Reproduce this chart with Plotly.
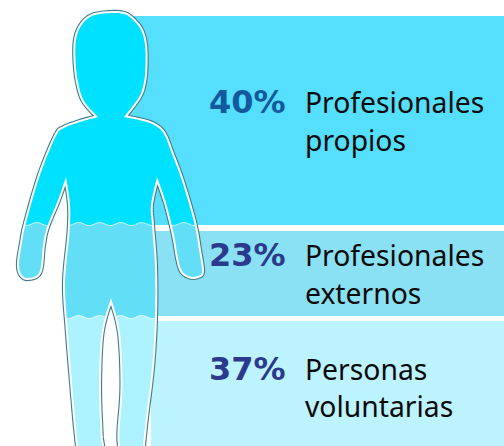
import numpy as np
import plotly.graph_objects as go

# Data
shares = [40, 23, 37]
share_labels = ["40%", "23%", "37%"]
categories = [["Profesionales", "propios"], ["Profesionales", "externos"], ["Personas", "voluntarias"]]

# Layout (pixel space of the graphic)
W, H = 504, 446
band_top = [16, 231, 321]
band_bottom = [225, 316, 446]
band_left = [130, 155, 151]
band_colors = ["#55DFFC", "#8AE1F3", "#BDF3FE"]
pct_colors = ["#12599E", "#2B3A8C", "#2B3A8C"]
text_y = [(102, 140), (255, 293), (369, 406)]
zone_colors = ["#00E1FF", "#62DFF6", "#ADF2FF"]
wave_y = [224, 317]

# Silhouette outline; a repeated point makes a sharp corner
outline = [
    (111, 13), (124, 14), (132, 19), (141, 30), (145, 45), (145.5, 65), (144, 82), (139, 97), (124, 117), (124, 117),
    (143, 121), (155, 125.5), (164, 134), (172, 154), (182, 181), (194, 222), (199, 250), (202, 271), (198, 276),
    (190, 276.5), (182, 271), (178, 258), (174, 235), (166, 203), (157, 177), (157, 177),
    (151, 205), (152, 225), (155, 267), (155, 317), (152, 367), (146, 417), (143, 446), (143, 452),
    (120.5, 452), (120, 446), (119.5, 430), (122.5, 387), (120, 333), (111, 298), (111, 298),
    (101.5, 333), (99, 387), (100.5, 433), (100.5, 452), (78, 452), (78, 446), (75, 417), (68, 333), (65, 283), (69.5, 233), (70, 205), (66, 177), (66, 177),
    (58, 200), (47, 227), (43, 245), (39.5, 272), (28, 278), (21, 274), (19, 263), (22, 243), (26, 223), (40, 175), (56, 136), (64, 128),
    (80, 122), (98, 117), (98, 117), (84, 101), (78, 82), (75.5, 60), (76, 40), (81, 26), (92, 16),
]


def smooth(points, n=8):
    p = np.array(points, float)
    m = len(p)
    out = []
    for i in range(m):
        p0, p1, p2, p3 = p[(i - 1) % m], p[i], p[(i + 1) % m], p[(i + 2) % m]
        if np.allclose(p1, p2):
            continue
        for t in np.linspace(0, 1, n, endpoint=False):
            out.append(0.5 * ((2 * p1) + (-p0 + p2) * t + (2 * p0 - 5 * p1 + 4 * p2 - p3) * t ** 2
                              + (-p0 + 3 * p1 - 3 * p2 + p3) * t ** 3))
    return np.array(out)


def wave(x, y0):
    return y0 + 1.5 * np.sin(x * 2 * np.pi / 21.0)


def clip(poly, y0, keep_above):
    res = []
    n = len(poly)
    def inside(pt):
        return (pt[1] <= wave(pt[0], y0)) if keep_above else (pt[1] >= wave(pt[0], y0))
    for i in range(n):
        a, b = poly[i], poly[(i + 1) % n]
        ia, ib = inside(a), inside(b)
        if ia:
            res.append(a)
        if ia != ib:
            da = a[1] - wave(a[0], y0)
            db = b[1] - wave(b[0], y0)
            q = a + (b - a) * da / (da - db)
            res.append(np.array([q[0], wave(q[0], y0)]))
    return fill_edges(np.array(res), y0)


def fill_edges(poly, y0):
    out = []
    n = len(poly)
    for i in range(n):
        a, b = poly[i], poly[(i + 1) % n]
        out.append(a)
        on_a = abs(a[1] - wave(a[0], y0)) < 1e-9
        on_b = abs(b[1] - wave(b[0], y0)) < 1e-9
        if on_a and on_b and abs(a[0] - b[0]) > 1:
            m = max(int(abs(a[0] - b[0])), 2)
            for x in np.linspace(a[0], b[0], m)[1:-1]:
                out.append(np.array([x, wave(x, y0)]))
    return np.array(out)


def crossings(poly, y0):
    xs = []
    n = len(poly)
    for i in range(n):
        a, b = poly[i], poly[(i + 1) % n]
        da = a[1] - wave(a[0], y0)
        db = b[1] - wave(b[0], y0)
        if da * db < 0:
            xs.append((a + (b - a) * da / (da - db))[0])
    return sorted(xs)


def svg_path(pts, close=True):
    s = "M" + " L".join(f"{x:.2f},{y:.2f}" for x, y in pts)
    return s + (" Z" if close else "")


body = smooth(outline)
closed = np.vstack([body, body[:1]])
fig = go.Figure()

for i in range(3):
    fig.add_trace(go.Bar(orientation="h", y=[(band_top[i] + band_bottom[i]) / 2], x=[W - band_left[i]],
                         base=[band_left[i]], width=[band_bottom[i] - band_top[i]],
                         marker=dict(color=band_colors[i], line=dict(width=0)), hoverinfo="skip", showlegend=False))

for color, width in (("#3E7D8A", 6.2), ("#FFFFFF", 4)):
    fig.add_trace(go.Scatter(x=closed[:, 0], y=closed[:, 1], mode="lines",
                             line=dict(color=color, width=width, simplify=False),
                             hoverinfo="skip", showlegend=False))

shapes = []
zones = [clip(body, wave_y[0], True), clip(clip(body, wave_y[0], False), wave_y[1], True), clip(body, wave_y[1], False)]
for poly, color in zip(zones, zone_colors):
    shapes.append(dict(type="path", path=svg_path(poly), fillcolor=color, line=dict(width=0), layer="above"))

for y0 in wave_y:
    xs = crossings(body, y0)
    for a, b in zip(xs[::2], xs[1::2]):
        wx = np.linspace(a, b, 60)
        shapes.append(dict(type="path", path=svg_path(np.c_[wx, wave(wx, y0)], close=False),
                           line=dict(color="rgba(255,255,255,0.5)", width=1.2), layer="above"))

ann = []
for i in range(3):
    ann.append(dict(x=207, y=text_y[i][0], text=f"<b>{share_labels[i]}</b>", showarrow=False, xanchor="left", yanchor="middle",
                    font=dict(family="DejaVu Sans", size=32, color=pct_colors[i])))
    for line, y in zip(categories[i], text_y[i]):
        ann.append(dict(x=303, y=y, text=line, showarrow=False, xanchor="left", yanchor="middle",
                        font=dict(family="Noto Sans", size=28.3, color="#0A0A0A")))

fig.update_layout(width=W, height=H, margin=dict(l=0, r=0, t=0, b=0), paper_bgcolor="white", plot_bgcolor="white",
                  xaxis=dict(range=[0, W], visible=False, fixedrange=True),
                  yaxis=dict(range=[H, 0], visible=False, fixedrange=True),
                  annotations=ann, shapes=shapes, barmode="overlay", showlegend=False)
fig.write_html("out.html", config={"displayModeBar": False},
               post_script="document.body.style.margin='0';")
